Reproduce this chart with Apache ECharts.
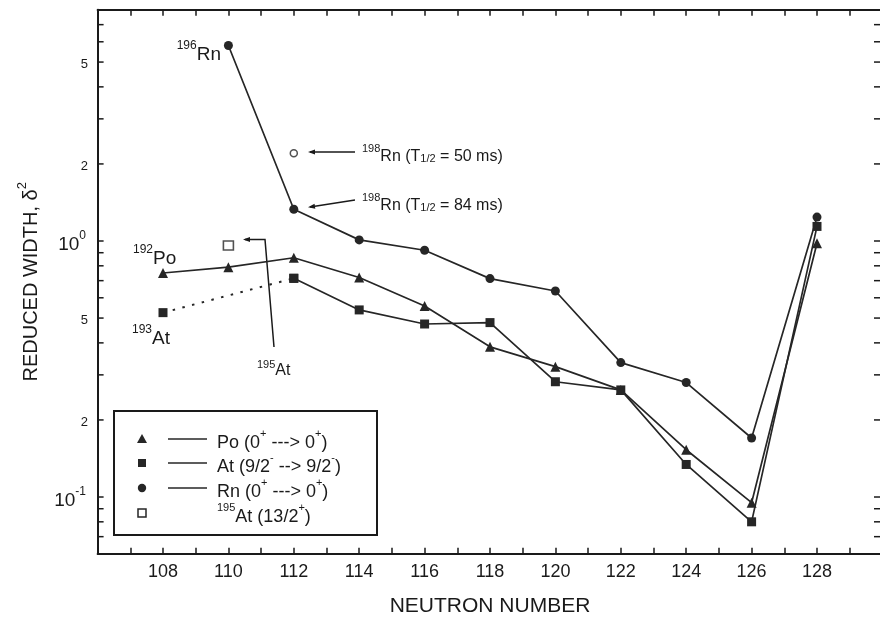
<!DOCTYPE html>
<html><head><meta charset="utf-8">
<script src="https://cdn.jsdelivr.net/npm/echarts@6/dist/echarts.min.js"></script>
<style>html,body{margin:0;padding:0;background:#fff}#c{width:880px;height:619px}</style>
</head><body><div id="c"></div>
<script>
// ---- data ----
const neutronPo = [108, 110, 112, 114, 116, 118, 120, 122, 124, 126, 128];
const widthPo   = [0.75, 0.79, 0.86, 0.72, 0.557, 0.386, 0.323, 0.262, 0.153, 0.095, 0.98];
const neutronAt = [112, 114, 116, 118, 120, 122, 124, 126, 128];
const widthAt   = [0.715, 0.538, 0.474, 0.48, 0.282, 0.262, 0.134, 0.08, 1.14];
const neutronAtDotted = [108, 112];
const widthAtDotted   = [0.525, 0.715];
const neutronRn = [110, 112, 114, 116, 118, 120, 122, 124, 126, 128];
const widthRn   = [5.8, 1.33, 1.01, 0.92, 0.713, 0.638, 0.335, 0.28, 0.17, 1.24];
const neutronRn198 = [112];
const widthRn198   = [2.2];
const neutronAt195 = [110];
const widthAt195   = [0.96];
const xTickLabels = [108, 110, 112, 114, 116, 118, 120, 122, 124, 126, 128];
const yMinorTickValues = [0.07, 0.08, 0.09, 0.1, 0.2, 0.3, 0.4, 0.5, 0.6, 0.7, 0.8, 0.9, 1, 2, 3, 4, 5, 6, 7];
const yTickLabelValues = [5, 2, 1, 0.5, 0.2, 0.1];
const yTickLabelTexts  = ['5', '2', '10^0', '5', '2', '10^-1'];

const FONT = 'Liberation Sans, Arial, Helvetica, sans-serif';
const INK = '#1a1a1a';
const LINE = '#262626';
const zip = (xs, ys) => xs.map((x, i) => [x, ys[i]]);

const chart = echarts.init(document.getElementById('c'), null, {renderer: 'canvas'});

const baseX = {
  type: 'value', min: 106, max: 130, interval: 1,
  axisLine: {show: true, lineStyle: {color: INK, width: 2}},
  axisTick: {show: true, inside: true, length: 6, lineStyle: {color: INK, width: 1.5}},
  splitLine: {show: false}
};
const baseY = {
  type: 'log', logBase: 10, min: 0.06, max: 8,
  axisLine: {show: true, lineStyle: {color: INK, width: 2}},
  axisTick: {show: false}, axisLabel: {show: false}, splitLine: {show: false}
};

chart.setOption({
  animation: false,
  backgroundColor: '#fff',
  grid: {left: 97.6, top: 9.8, width: 784.8, height: 544, containLabel: false, outerBoundsMode: 'none'},
  xAxis: [
    Object.assign({}, baseX, {
      position: 'bottom',
      axisLabel: {show: true, margin: 9, fontSize: 18, color: INK, fontFamily: FONT,
        formatter: v => (xTickLabels.indexOf(v) >= 0 ? String(v) : '')},
      name: 'NEUTRON NUMBER', nameLocation: 'middle', nameGap: 42,
      nameTextStyle: {fontSize: 21, color: INK, fontFamily: FONT}
    }),
    Object.assign({}, baseX, {position: 'top', axisLabel: {show: false}})
  ],
  yAxis: [
    Object.assign({}, baseY, {
      position: 'left',
      name: '{a|REDUCED WIDTH, δ}{s|2}', nameLocation: 'middle', nameGap: 56,
      nameTextStyle: {color: INK, fontFamily: FONT, rich: {
        a: {fontSize: 20, color: INK, fontFamily: FONT, lineHeight: 26, verticalAlign: 'bottom'},
        s: {fontSize: 13, color: INK, fontFamily: FONT, verticalAlign: 'top'}
      }}
    }),
    Object.assign({}, baseY, {position: 'right'})
  ],
  series: [
    {name: 'Po', type: 'line', data: zip(neutronPo, widthPo), symbol: 'triangle', symbolSize: 10,
      itemStyle: {color: LINE}, lineStyle: {color: LINE, width: 1.7}, z: 3},
    {name: 'At', type: 'line', data: zip(neutronAt, widthAt), symbol: 'rect', symbolSize: 9,
      itemStyle: {color: LINE}, lineStyle: {color: LINE, width: 1.7}, z: 3},
    {name: 'At dotted', type: 'line', data: zip(neutronAtDotted, widthAtDotted), symbol: 'rect', symbolSize: 9,
      itemStyle: {color: LINE}, lineStyle: {color: LINE, width: 2, type: [2.5, 7.5]}, z: 3},
    {name: 'Rn', type: 'line', data: zip(neutronRn, widthRn), symbol: 'circle', symbolSize: 9,
      itemStyle: {color: LINE}, lineStyle: {color: LINE, width: 1.7}, z: 3},
    {name: '198Rn 50ms', type: 'scatter', data: zip(neutronRn198, widthRn198), symbol: 'circle', symbolSize: 7,
      itemStyle: {color: '#fff', borderColor: LINE, borderWidth: 1.5}, z: 4},
    {name: '195At', type: 'scatter', data: zip(neutronAt195, widthAt195), symbol: 'rect', symbolSize: [10, 9],
      itemStyle: {color: '#fff', borderColor: LINE, borderWidth: 1.5}, z: 4}
  ]
});

// ---- graphics: log ticks, tick labels, annotations, legend ----
const px = (x, y) => chart.convertToPixel({xAxisIndex: 0, yAxisIndex: 0}, [x, y]);
const leftX = px(106, 1)[0];
const rightX = Math.min(px(130, 1)[0], 880);
const g = [];

yMinorTickValues.forEach(v => {
  const y = px(106, v)[1];
  g.push({type: 'line', shape: {x1: leftX, y1: y, x2: leftX + 6, y2: y}, style: {stroke: INK, lineWidth: 1.5}});
  g.push({type: 'line', shape: {x1: rightX - 6, y1: y, x2: rightX, y2: y}, style: {stroke: INK, lineWidth: 1.5}});
});

function richOf(txt) {
  const parts = txt.split('^');
  let s = '{b|' + parts[0] + '}';
  if (parts[1]) s += '{s|' + parts[1] + '}';
  return s;
}
yTickLabelValues.forEach((v, i) => {
  const y = px(106, v)[1];
  const t = yTickLabelTexts[i];
  const isDecade = t.indexOf('^') >= 0;
  g.push({type: 'text', x: isDecade ? 86 : 88, y: y + (isDecade ? 1 : 1), style: {
    text: richOf(t), align: 'right', verticalAlign: 'middle',
    rich: {
      b: {fontSize: isDecade ? 19 : 13, fontFamily: FONT, fill: INK, lineHeight: isDecade ? 24 : 16, verticalAlign: 'bottom'},
      s: {fontSize: 12, fontFamily: FONT, fill: INK, verticalAlign: 'top'}
    }
  }});
});

function supRich(base, sup, lh) {
  return {
    b: {fontSize: base, fontFamily: FONT, fill: INK, lineHeight: lh, verticalAlign: 'bottom'},
    s: {fontSize: sup, fontFamily: FONT, fill: INK, verticalAlign: 'top'},
    u: {fontSize: sup, fontFamily: FONT, fill: INK, verticalAlign: 'bottom'}
  };
}
function label(x, y, text, base, sup, lh, align) {
  g.push({type: 'text', x: x, y: y, style: {text: text, align: align || 'left', verticalAlign: 'middle', rich: supRich(base, sup, lh)}});
}

// isotope labels
label(221, 52, '{s|196}{b|Rn}', 19, 12, 24, 'right');
label(133, 256, '{s|192}{b|Po}', 19, 12, 24);
label(132, 336, '{s|193}{b|At}', 19, 12, 24);
label(257, 369, '{s|195}{b|At}', 16, 11, 20);
label(362, 154, '{s|198}{b|Rn (T}{u|1/2}{b| = 50 ms)}', 16, 11, 21);
label(362, 203, '{s|198}{b|Rn (T}{u|1/2}{b| = 84 ms)}', 16, 11, 21);

// leader lines with small arrowheads
function arrowHead(tipX, tipY, fromX, fromY) {
  const ang = Math.atan2(tipY - fromY, tipX - fromX);
  const L = 7, W = 2.5;
  const bx = tipX - L * Math.cos(ang), by = tipY - L * Math.sin(ang);
  const nx = -Math.sin(ang) * W, ny = Math.cos(ang) * W;
  g.push({type: 'polygon', shape: {points: [[tipX, tipY], [bx + nx, by + ny], [bx - nx, by - ny]]}, style: {fill: INK}});
}
g.push({type: 'line', shape: {x1: 355, y1: 152, x2: 310, y2: 152}, style: {stroke: INK, lineWidth: 1.3}});
arrowHead(308, 152, 355, 152);
g.push({type: 'line', shape: {x1: 355, y1: 200, x2: 310, y2: 207}, style: {stroke: INK, lineWidth: 1.3}});
arrowHead(308, 207.3, 355, 200);
g.push({type: 'polyline', shape: {points: [[274, 347], [265, 239.5], [245, 239.5]]}, style: {stroke: INK, lineWidth: 1.5, fill: null}});
arrowHead(243, 239.5, 265, 239.5);

// legend box
g.push({type: 'rect', shape: {x: 114, y: 411, width: 263, height: 124}, style: {fill: '#fff', stroke: INK, lineWidth: 2}, z: 10});
const legRows = [439, 463, 488, 513];
const sx = 142;
g.push({type: 'polygon', z: 11, shape: {points: [[sx, legRows[0] - 5], [sx + 5, legRows[0] + 4], [sx - 5, legRows[0] + 4]]}, style: {fill: LINE}});
g.push({type: 'rect', z: 11, shape: {x: sx - 4, y: legRows[1] - 4, width: 8, height: 8}, style: {fill: LINE}});
g.push({type: 'circle', z: 11, shape: {cx: sx, cy: legRows[2], r: 4.2}, style: {fill: LINE}});
g.push({type: 'rect', z: 11, shape: {x: sx - 4, y: legRows[3] - 4, width: 8, height: 8}, style: {fill: '#fff', stroke: LINE, lineWidth: 1.5}});
[0, 1, 2].forEach(i => g.push({type: 'line', z: 11, shape: {x1: 168, y1: legRows[i], x2: 207, y2: legRows[i]}, style: {stroke: LINE, lineWidth: 1.6}}));
const legTexts = [
  '{b|Po (0}{s|+}{b| ---> 0}{s|+}{b|)}',
  '{b|At (9/2}{s|-}{b| --> 9/2}{s|-}{b|)}',
  '{b|Rn (0}{s|+}{b| ---> 0}{s|+}{b|)}',
  '{s|195}{b|At (13/2}{s|+}{b|)}'
];
legTexts.forEach((t, i) => g.push({type: 'text', z: 11, x: 217, y: legRows[i] + 1, style: {
  text: t, align: 'left', verticalAlign: 'middle', rich: supRich(18, 11, 24)}}));

chart.setOption({graphic: {elements: g}});
</script>
</body></html>
